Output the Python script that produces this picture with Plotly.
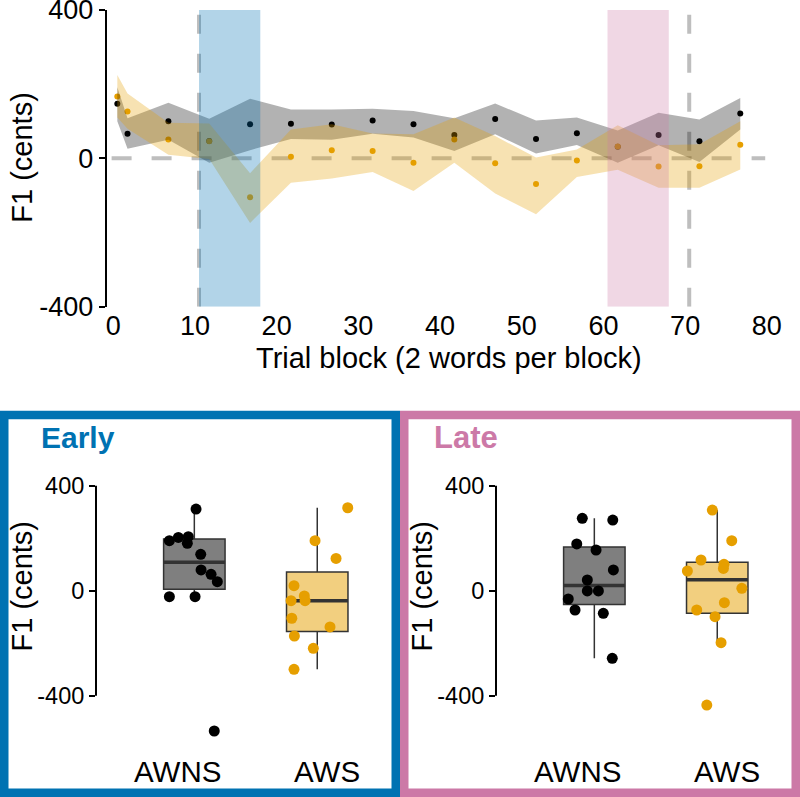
import numpy as np
import plotly.graph_objects as go

W, H = 800, 797
FONT = "Liberation Sans, Arial, sans-serif"

# ---------------- Top panel data ----------------
block = [0.5, 1.75, 6.75, 11.75, 16.75, 21.75, 26.75, 31.75, 36.75, 41.75,
         46.75, 51.75, 56.75, 61.75, 66.75, 71.75, 76.75]
awns_mean = [147, 66, 100, 47, 92, 93, 91, 102, 92, 63, 106, 52, 68, 31, 63, 46, 121]
awns_hi = [192, 108, 150, 107, 161, 132, 132, 134, 128, 108, 148, 102, 110, 75, 123, 105, 163]
awns_lo = [100, 26, 50, -12, 22, 52, 50, 66, 56, 20, 65, 13, 36, -12, 35, -10, 78]
aws_mean = [167, 126, 51, 46, -105, 4, 22, 20, -12, 51, -13, -69, -6, 32, -22, -21, 37]
aws_hi = [225, 175, 96, 94, -40, 78, 92, 67, 65, 110, 60, 2, 24, 89, 35, 38, 100]
aws_lo = [110, 80, 10, -2, -174, -66, -54, -37, -88, -12, -95, -151, -50, -31, -79, -79, -30]

top_xticks = [0, 10, 20, 30, 40, 50, 60, 70, 80]
y_ticks = [-400, 0, 400]
y_ticktext = ["-400", "0", "400"]

early_window = [10.5, 18]
late_window = [60.5, 68]
phase_lines = [10.5, 70.5]
zero_line_span = [-0.2, 79.8]

# ---------------- Bottom panels data ----------------
groups = ["AWNS", "AWS"]
early_awns = [311, 190.5, 203, 206, 180.5, 138.6, 79, 62.4, 34.3, -22.7, -22.7, -534.5]
early_awns_jit = [0.014, -0.203, -0.13, -0.049, -0.057, 0.052, 0.055, 0.136, 0.187, -0.203, 0.006, 0.162]
early_aws = [316, 190.5, 123, 19, -20.2, -38, -38, -105, -138, -172.6, -219.6, -299.6]
early_aws_jit = [0.248, -0.018, 0.153, -0.189, -0.105, -0.213, -0.099, -0.207, 0.104, -0.186, -0.032, -0.189]
late_awns = [275.8, 269, 178, 155, 79, 40.8, -1, -1, -31.6, -73.5, -86, -257.7]
late_awns_jit = [-0.098, 0.15, -0.143, 0.014, 0.155, -0.057, -0.057, 0.033, -0.212, -0.157, 0.073, 0.146]
late_aws = [307, 190.5, 117, 100.4, 85, 75, 9, -45.6, -73.5, -99, -198, -435.6]
late_aws_jit = [-0.04, 0.118, -0.132, 0.055, 0.05, -0.243, 0.2, 0.058, -0.167, -0.018, 0.031, -0.085]
label_pos = [0.863, 2.077]

C_AWNS = "#000000"
C_AWS = "#E69F00"
C_EARLY = "#0072B2"
C_LATE = "#CC79A7"

fig = go.Figure()

# top: points first, ribbons drawn over them
fig.add_trace(go.Scatter(x=block, y=awns_mean, mode="markers",
                         marker=dict(color=C_AWNS, size=6), xaxis="x", yaxis="y"))
fig.add_trace(go.Scatter(x=block, y=aws_mean, mode="markers",
                         marker=dict(color=C_AWS, size=6), xaxis="x", yaxis="y"))
fig.add_trace(go.Scatter(x=block + block[::-1], y=awns_hi + awns_lo[::-1], mode="lines",
                         fill="toself", fillcolor="rgba(0,0,0,0.3)", line=dict(width=0),
                         xaxis="x", yaxis="y"))
fig.add_trace(go.Scatter(x=block + block[::-1], y=aws_hi + aws_lo[::-1], mode="lines",
                         fill="toself", fillcolor="rgba(230,159,0,0.3)", line=dict(width=0),
                         xaxis="x", yaxis="y"))

# bottom panels
def add_group(vals, jit, pos, color, fill, xa, ya):
    fig.add_trace(go.Box(y=vals, x0=pos, width=0.5, fillcolor=fill,
                         line=dict(color="#333333", width=1.5), boxpoints="outliers",
                         marker=dict(opacity=0, size=1),
                         whiskerwidth=0, quartilemethod="linear",
                         xaxis=xa, yaxis=ya))
    med = float(np.median(vals))
    fig.add_trace(go.Scatter(x=[pos - 0.25, pos + 0.25], y=[med, med], mode="lines",
                             line=dict(color="#333333", width=3.5), xaxis=xa, yaxis=ya))
    fig.add_trace(go.Scatter(x=[pos + j for j in jit], y=vals, mode="markers",
                             marker=dict(color=color, size=11), xaxis=xa, yaxis=ya))

add_group(early_awns, early_awns_jit, 1, C_AWNS, "rgba(0,0,0,0.5)", "x2", "y2")
add_group(early_aws, early_aws_jit, 2, C_AWS, "rgba(230,159,0,0.5)", "x2", "y2")
add_group(late_awns, late_awns_jit, 1, C_AWNS, "rgba(0,0,0,0.5)", "x3", "y3")
add_group(late_aws, late_aws_jit, 2, C_AWS, "rgba(230,159,0,0.5)", "x3", "y3")

def py(p):
    return 1 - p / H

def px(p):
    return p / W

tickfont_top = dict(family=FONT, size=27, color="black")
tickfont_bot = dict(family=FONT, size=23.5, color="black")

fig.update_layout(
    width=W, height=H, showlegend=False,
    paper_bgcolor="white", plot_bgcolor="rgba(0,0,0,0)",
    margin=dict(l=0, r=0, t=0, b=0, pad=0),
    font=dict(family=FONT, color="black"),
    xaxis=dict(domain=[px(106.7), px(775)], range=[-0.8, 81], tickvals=top_xticks,
               showline=False, showgrid=False, zeroline=False, ticks="",
               tickfont=tickfont_top, ticklabeloverflow="allow",
               anchor="y", automargin=False),
    yaxis=dict(domain=[py(306.7), py(10)], range=[-400, 400], tickvals=y_ticks,
               ticktext=y_ticktext, showline=True, linecolor="black", linewidth=2,
               ticks="outside", ticklen=6, tickwidth=2, tickcolor="black",
               showgrid=False, zeroline=False, tickfont=tickfont_top, anchor="x",
               ticklabeloverflow="allow", automargin=False),
    xaxis2=dict(domain=[px(96), px(391)], range=[0.2, 2.6], showticklabels=False,
                showline=False, showgrid=False, zeroline=False, ticks="", anchor="y2",
                automargin=False),
    yaxis2=dict(domain=[py(737.7), py(475.2)], range=[-560, 440], tickvals=y_ticks,
                ticktext=y_ticktext, showline=False, ticks="outside", ticklen=6,
                tickwidth=2, tickcolor="black", showgrid=False, zeroline=False,
                tickfont=tickfont_bot, anchor="x2", ticklabeloverflow="allow",
                automargin=False),
    xaxis3=dict(domain=[px(496), px(791)], range=[0.2, 2.6], showticklabels=False,
                showline=False, showgrid=False, zeroline=False, ticks="", anchor="y3",
                automargin=False),
    yaxis3=dict(domain=[py(737.7), py(475.2)], range=[-560, 440], tickvals=y_ticks,
                ticktext=y_ticktext, showline=False, ticks="outside", ticklen=6,
                tickwidth=2, tickcolor="black", showgrid=False, zeroline=False,
                tickfont=tickfont_bot, anchor="x3", ticklabeloverflow="allow",
                automargin=False),
)

shapes = []
# dashed reference lines under the data
shapes.append(dict(type="line", xref="x", yref="y", x0=zero_line_span[0], x1=zero_line_span[1],
                   y0=0, y1=0, layer="below",
                   line=dict(color="#BEBEBE", width=4, dash="20px,20px")))
for xv in phase_lines:
    shapes.append(dict(type="line", xref="x", yref="y", x0=xv, x1=xv, y0=-400, y1=400,
                       layer="below", line=dict(color="#BEBEBE", width=4, dash="19px,20px")))
# analysis windows on top
shapes.append(dict(type="rect", xref="x", yref="y", x0=early_window[0], x1=early_window[1],
                   y0=-400, y1=400, fillcolor="rgba(0,114,178,0.3)", line=dict(width=0),
                   layer="above"))
shapes.append(dict(type="rect", xref="x", yref="y", x0=late_window[0], x1=late_window[1],
                   y0=-400, y1=400, fillcolor="rgba(204,121,167,0.3)", line=dict(width=0),
                   layer="above"))
# capped y axis lines in bottom panels
for xr, yr in (("x2 domain", "y2"), ("x3 domain", "y3")):
    shapes.append(dict(type="line", xref=xr, yref=yr, x0=0, x1=0, y0=-400, y1=400,
                       line=dict(color="black", width=2)))
# panel frames
bw = 8.5
shapes.append(dict(type="rect", xref="paper", yref="paper",
                   x0=px(bw / 2), x1=px(400 - bw / 2), y0=py(410.7 + bw / 2), y1=py(797 - bw / 2),
                   line=dict(color=C_EARLY, width=bw), fillcolor="rgba(0,0,0,0)"))
shapes.append(dict(type="rect", xref="paper", yref="paper",
                   x0=px(400 + bw / 2), x1=px(800 - bw / 2), y0=py(410.7 + bw / 2), y1=py(797 - bw / 2),
                   line=dict(color=C_LATE, width=bw), fillcolor="rgba(0,0,0,0)"))
fig.update_layout(shapes=shapes)

ann = []
title_font = dict(family=FONT, size=29, color="black")
ann.append(dict(text="F1 (cents)", x=px(21.7), y=py(157), xref="paper", yref="paper",
                textangle=-90, showarrow=False, font=title_font, xanchor="center", yanchor="middle"))
ann.append(dict(text="Trial block (2 words per block)", x=px(449), y=py(358), xref="paper",
                yref="paper", showarrow=False, font=title_font, xanchor="center", yanchor="middle"))
for off in (0, 400):
    ann.append(dict(text="F1 (cents)", x=px(21.7 + off), y=py(585.8), xref="paper", yref="paper",
                    textangle=-90, showarrow=False, font=title_font, xanchor="center",
                    yanchor="middle"))
ann.append(dict(text="<b>Early</b>", x=px(39), y=py(437), xref="paper", yref="paper",
                showarrow=False, xanchor="left", yanchor="middle",
                font=dict(family=FONT, size=30, color=C_EARLY)))
ann.append(dict(text="<b>Late</b>", x=px(432), y=py(437), xref="paper", yref="paper",
                showarrow=False, xanchor="left", yanchor="middle",
                font=dict(family=FONT, size=31, color=C_LATE)))
label_font = dict(family=FONT, size=29.5, color="black")
for xr in ("x2", "x3"):
    for g, lp in zip(groups, label_pos):
        ann.append(dict(text=g, x=lp, y=py(771.7), xref=xr, yref="paper", showarrow=False,
                        xanchor="center", yanchor="middle", font=label_font))
fig.update_layout(annotations=ann)

fig.write_html("out.html", config={"displayModeBar": False},
               post_script="document.body.style.margin='0px';document.body.style.padding='0px';")
